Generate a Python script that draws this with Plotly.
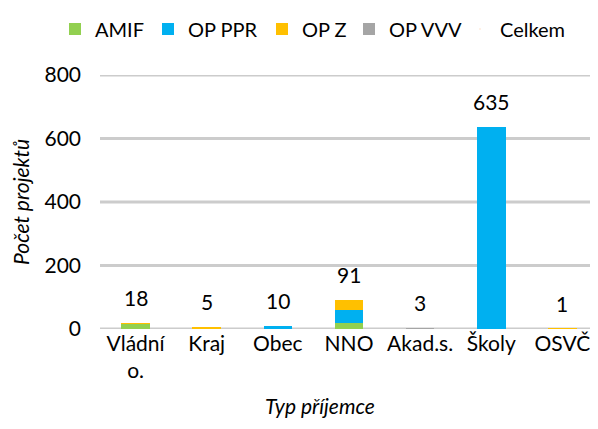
import plotly.graph_objects as go

categories = ["Vládní<br>o.", "Kraj", "Obec", "NNO", "Akad.s.", "Školy", "OSVČ"]
amif = [16, 2, 0, 20, 0, 0, 0]
op_ppr = [0, 0, 10, 40, 0, 635, 0]
op_z = [2, 3, 0, 31, 0, 0, 1]
op_vvv = [0, 0, 0, 0, 3, 0, 0]
celkem = [18, 5, 10, 91, 3, 635, 1]
y_ticks = [0, 200, 400, 600, 800]

FONT = "Lato"
FS = 21
OFF = 8  # default body margin of the html page
W, H = 598 - OFF, 429 - OFF
L, T = 100 - OFF, 75 - OFF
B = H - (329 - OFF)
PW, PH = W - L, H - T - B

# legend item left edges (page px)
leg_left = [75 - 20, 168 - 20, 282 - 20, 369 - 20, 500 - 40]
legend_ids = ["legend2", "legend3", "legend4", "legend5", "legend6"]

fig = go.Figure()
series = [("AMIF", amif, "#92d050"), ("OP PPR", op_ppr, "#00b0f0"),
          ("OP Z", op_z, "#ffc000"), ("OP VVV", op_vvv, "#a5a5a5")]
for (name, vals, col), lid in zip(series, legend_ids):
    fig.add_trace(go.Bar(x=categories, y=vals, name=name, marker_color=col,
                         marker_line_width=0, width=0.4, legend=lid))
fig.add_trace(go.Scatter(x=categories, y=celkem, name="Celkem", mode="markers",
                         marker=dict(opacity=0, size=1), hoverinfo="skip",
                         legend=legend_ids[4]))
for c, v in zip(categories, celkem):
    fig.add_annotation(x=c, y=v, text=str(v), showarrow=False, yanchor="bottom",
                       yshift=11, font=dict(size=FS, color="#000000", family=FONT))

fig.add_annotation(xref="paper", yref="paper", x=(320 - 100) / PW,
                   y=-(405 - 329) / PH, text="<i>Typ příjemce</i>", showarrow=False,
                   yanchor="middle", font=dict(size=FS, color="#000000", family=FONT))

# gridlines as thin filled bands at tick values, behind the bars
for tv in y_ticks:
    fig.add_shape(type="rect", xref="paper", x0=0, x1=1, yref="y",
                  ysizemode="pixel", yanchor=tv, y0=-1.5, y1=1.5,
                  fillcolor="#cccccc", opacity=1, line_width=0, layer="between")

legends = {}
for lid, lx in zip(legend_ids, leg_left):
    legends[lid] = dict(orientation="h", xref="container", yref="container",
                        x=(lx - OFF) / W, xanchor="left",
                        y=1 - (29 - OFF) / H, yanchor="middle",
                        font=dict(size=FS - 1, family=FONT, color="#000000"),
                        itemwidth=30, bgcolor="rgba(0,0,0,0)")

fig.update_layout(
    barmode="stack",
    width=W, height=H,
    margin=dict(l=L, r=0, t=T, b=B, autoexpand=False),
    paper_bgcolor="white", plot_bgcolor="white",
    font=dict(family=FONT, size=FS, color="#000000"),
    xaxis=dict(showgrid=False, showline=False, ticks="", tickfont=dict(size=FS)),
    yaxis=dict(range=[0, 800], tickvals=y_ticks, showgrid=False, zeroline=False,
               showline=False, ticks="", tickfont=dict(size=FS), ticklabelstandoff=18,
               title=dict(text="<i>Počet projektů</i>", font=dict(size=FS), standoff=10)),
    **legends,
)
fig.write_html("out.html")
